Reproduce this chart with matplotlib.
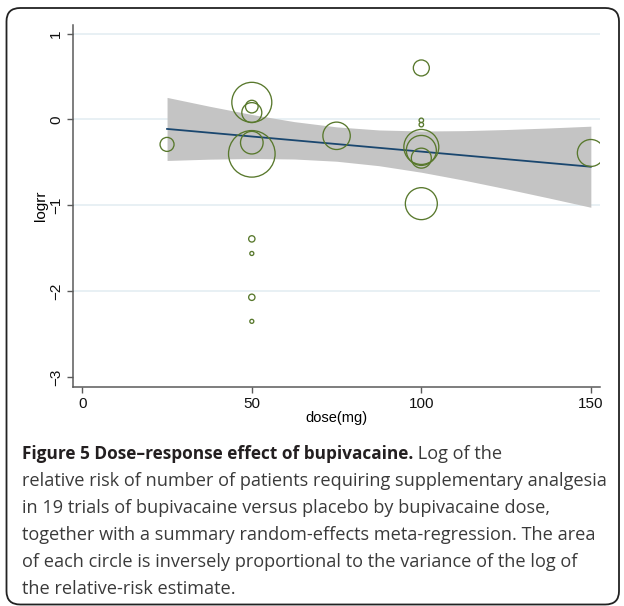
import matplotlib
matplotlib.use("Agg")
import matplotlib.pyplot as plt
from matplotlib.patches import FancyBboxPatch

# trial estimates (dose in mg, log relative risk, inverse-variance weight)
dose = [25, 50, 50, 50, 50, 50, 50, 50, 50, 50, 75,
        100, 100, 100, 100, 100, 100, 100, 150]
logrr = [-0.29, 0.20, 0.15, 0.08, -0.27, -0.40, -1.39, -1.56, -2.07, -2.35, -0.19,
         0.60, -0.01, -0.06, -0.32, -0.36, -0.45, -0.98, -0.39]
weight = [49, 400, 40, 100, 128, 543, 10, 4, 10, 4, 188,
          64, 5, 5, 306, 225, 100, 256, 182]

# meta-regression fit and its confidence band
fit_dose = [25, 150]
fit_logrr = [-0.11, -0.55]
band_dose = [25, 37.5, 50, 62.5, 75, 87.5, 100, 112.5, 125, 137.5, 150]
band_upper = [0.257, 0.154, 0.058, -0.025, -0.086, -0.122, -0.134, -0.130, -0.117, -0.099, -0.078]
band_lower = [-0.477, -0.462, -0.454, -0.460, -0.486, -0.538, -0.614, -0.706, -0.807, -0.913, -1.022]

xticks = [0, 50, 100, 150]
yticks = [-3, -2, -1, 0, 1]
grid_y = [-2, -1, 0, 1]

caption_bold = "Figure 5 Dose\u2013response effect of bupivacaine."
caption_lines = [
    " Log of the",
    "relative risk of number of patients requiring supplementary analgesia",
    "in 19 trials of bupivacaine versus placebo by bupivacaine dose,",
    "together with a summary random-effects meta-regression. The area",
    "of each circle is inversely proportional to the variance of the log of",
    "the relative-risk estimate.",
]

W, H = 624, 606
fig = plt.figure(figsize=(W / 100, H / 100), dpi=100)
fig.patch.set_facecolor("white")

# rounded frame round the whole figure
frame = FancyBboxPatch((6.5 / W, 1.5 / H), (619 - 6.5) / W, (H - 8 - 1.5) / H,
                       boxstyle="round,pad=0,rounding_size=0.022",
                       transform=fig.transFigure, fill=False,
                       edgecolor="#222222", linewidth=1.3)
fig.patches.append(frame)

ax = fig.add_axes([72.8 / W, 1 - 387.3 / H, (600 - 72.8) / W, (387.3 - 25) / H])
ax.set_xlim(-2.8, 152.7)
ax.set_ylim(-3.118, 1.10)

for g in grid_y:
    ax.axhline(g, color="#e4edf2", linewidth=1.2, zorder=0)

ax.fill_between(band_dose, band_lower, band_upper, color="#c4c4c4", linewidth=0, zorder=1)
ax.plot(fit_dose, fit_logrr, color="#1a476f", linewidth=1.3, zorder=2)
ax.scatter(dose, logrr, s=[2.07 * w for w in weight], facecolors="none",
           edgecolors="#58782c", linewidths=0.95, zorder=3)

for side in ["top", "right"]:
    ax.spines[side].set_visible(False)
for side in ["left", "bottom"]:
    ax.spines[side].set_color("#5a5a5a")
    ax.spines[side].set_linewidth(1.1)

ax.set_xticks(xticks)
ax.set_yticks(yticks)
ax.tick_params(axis="both", direction="out", length=4, width=1, color="#5a5a5a",
               labelsize=11, labelcolor="#111111")
ax.tick_params(axis="x", pad=3)
ax.tick_params(axis="y", pad=3)
for lab in ax.get_yticklabels():
    lab.set_rotation(90)
    lab.set_va("center")
    lab.set_family("Liberation Sans")
for lab in ax.get_xticklabels():
    lab.set_family("Liberation Sans")

ax.set_xlabel("dose(mg)", family="Liberation Sans", fontsize=10.5, labelpad=0)
ax.set_ylabel("logrr", family="Liberation Sans", fontsize=11, labelpad=1)

# caption
x0 = 22 / W
t = fig.text(x0, 1 - 454 / H, caption_bold, fontsize=12.4, fontweight="bold",
             family="Open Sans", color="#231f20", va="center")
ax.annotate(caption_lines[0], xy=(1, 0), xycoords=t, va="bottom", ha="left",
            fontsize=13.1, family="Open Sans", color="#3a3a3a",
            annotation_clip=False)
for i, line in enumerate(caption_lines[1:]):
    fig.text(x0, 1 - (481 + 27 * i) / H, line, fontsize=13.1, family="Open Sans",
             color="#3a3a3a", va="center")

fig.savefig("out.png", dpi=100)
